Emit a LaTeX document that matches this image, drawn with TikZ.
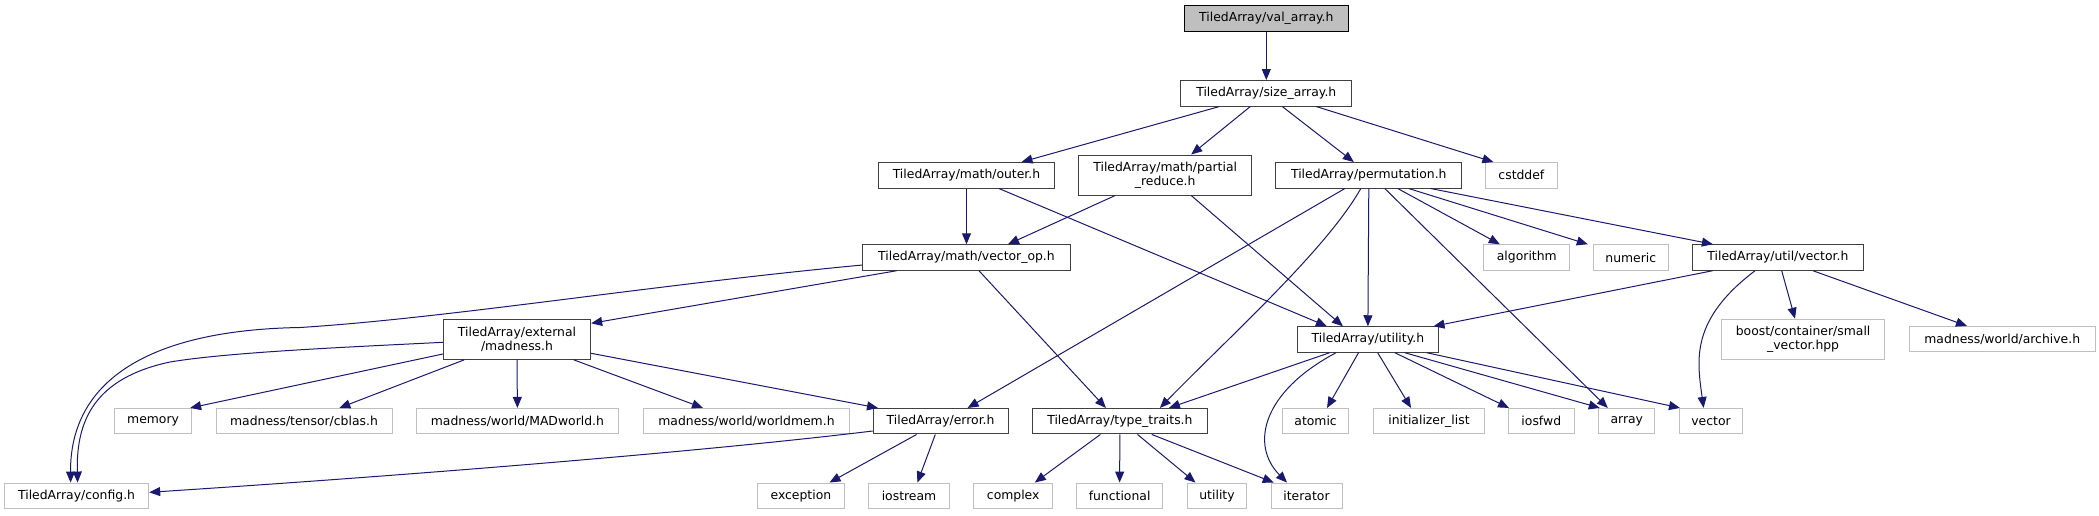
\documentclass[tikz,border=0pt]{standalone}
\usepackage{fontspec}
\setmainfont{DejaVu Sans}
\usetikzlibrary{arrows.meta}
\definecolor{edgeblue}{HTML}{191970}
\tikzset{
 base/.style={draw, line width=1pt, inner sep=0pt, font=\fontsize{12.4}{14}\selectfont, align=center, minimum height=25.5pt},
 int/.style={base, draw=black!75},
 ext/.style={base, draw=black!25},
 root/.style={base, draw=black, fill=black!25},
 two/.style={minimum height=40pt},
 e/.style={draw=edgeblue, line width=1pt, -{Triangle[length=11pt,width=9pt]}},
}
\begin{document}
\begin{tikzpicture}[x=1pt,y=-1pt]
\useasboundingbox (0,0) rectangle (2099,515);
% row 0
\node[root, minimum width=164pt] (val) at (1266.3,18.5) {TiledArray/val\_array.h};
% row 1
\node[int, minimum width=171pt] (size) at (1266.3,93.3) {TiledArray/size\_array.h};
% row 2
\node[int, minimum width=176pt] (outer) at (966.5,175.3) {TiledArray/math/outer.h};
\node[int, two, minimum width=173pt] (partial) at (1165.2,175) {TiledArray/math/partial\\\_reduce.h};
\node[int, minimum width=185.7pt] (perm) at (1368.8,175.3) {TiledArray/permutation.h};
\node[ext, minimum width=71.4pt] (cstddef) at (1521.4,175.3) {cstddef};
% row 3
\node[int, minimum width=207.2pt] (vecop) at (966.5,257.5) {TiledArray/math/vector\_op.h};
\node[ext, minimum width=85.7pt] (algorithm) at (1526.8,257.5) {algorithm};
\node[ext, minimum width=75pt] (numeric) at (1630.8,257.5) {numeric};
\node[int, minimum width=171pt] (utilvec) at (1777.9,257.5) {TiledArray/util/vector.h};
% row 4
\node[int, two, minimum width=147.3pt] (madness) at (517,339.3) {TiledArray/external\\/madness.h};
\node[int, minimum width=141.1pt] (utility) at (1367.9,339.5) {TiledArray/utility.h};
\node[ext, two, minimum width=162.5pt] (boost) at (1803.1,339.2) {boost/container/small\\\_vector.hpp};
\node[ext, minimum width=185.7pt] (archive) at (2002.2,339.2) {madness/world/archive.h};
% row 5
\node[ext, minimum width=77.7pt] (memory) at (153.1,421.2) {memory};
\node[ext, minimum width=176pt] (cblas) at (304,421.2) {madness/tensor/cblas.h};
\node[ext, minimum width=202.8pt] (madworld) at (517.4,421.2) {madness/world/MADworld.h};
\node[ext, minimum width=206.3pt] (worldmem) at (746.5,421.2) {madness/world/worldmem.h};
\node[int, minimum width=134.8pt] (error) at (940.6,421.2) {TiledArray/error.h};
\node[int, minimum width=174.5pt] (traits) at (1119.9,421.2) {TiledArray/type\_traits.h};
\node[ext, minimum width=66.1pt] (atomic) at (1315.6,421.2) {atomic};
\node[ext, minimum width=110.7pt] (initlist) at (1429,421.2) {initializer\_list};
\node[ext, minimum width=65.6pt] (iosfwd) at (1541.3,421.2) {iosfwd};
\node[ext, minimum width=56.2pt] (array) at (1626.8,421.2) {array};
\node[ext, minimum width=62.9pt] (vector) at (1711,421.2) {vector};
% row 6
\node[ext, minimum width=144.2pt] (config) at (76.6,495.8) {TiledArray/config.h};
\node[ext, minimum width=87.5pt] (exception) at (800.9,495.8) {exception};
\node[ext, minimum width=80.3pt] (iostream) at (909,495.8) {iostream};
\node[ext, minimum width=79pt] (complex) at (1013.2,495.8) {complex};
\node[ext, minimum width=86.7pt] (functional) at (1119.6,495.8) {functional};
\node[ext, minimum width=59.9pt] (utilstd) at (1217,495.8) {utility};
\node[ext, minimum width=71pt] (iterator) at (1306.5,495.8) {iterator};

% edges
\draw[e] (val.south) -- (size.north);
\draw[e] ([xshift=-47pt]size.south) -- ([xshift=55pt]outer.north);
\draw[e] ([xshift=-16pt]size.south) -- ([xshift=26pt]partial.north);
\draw[e] ([xshift=16pt]size.south) -- ([xshift=-15pt]perm.north);
\draw[e] ([xshift=50pt]size.south) -- ([xshift=-28pt]cstddef.north);

\draw[e] (outer.south) -- (vecop.north);
\draw[e] ([xshift=32.5pt]outer.south) -- ([xshift=-41pt]utility.north);
\draw[e] ([xshift=-50pt]partial.south) -- ([xshift=41.5pt]vecop.north);
\draw[e] ([xshift=26pt]partial.south) -- ([xshift=-25pt]utility.north);

\draw[e] (perm.south) -- (utility.north);
\draw[e] ([xshift=-24pt]perm.south) -- ([xshift=27pt]error.north);
\draw[e] ([xshift=-8pt]perm.south) .. controls (1326,250) and (1228,338) .. ([xshift=40pt]traits.north);
\draw[e] ([xshift=16pt]perm.south) -- ([xshift=-19pt]array.north);
\draw[e] ([xshift=29pt]perm.south) -- ([xshift=-27pt]algorithm.north);
\draw[e] ([xshift=40pt]perm.south) -- ([xshift=-43pt]numeric.north);
\draw[e] ([xshift=62pt]perm.south) -- ([xshift=-65pt]utilvec.north);

\draw[e] ([yshift=-7.5pt]vecop.west) .. controls (650,285) and (450,318) .. (300,327.5)
  .. controls (150,330) and (70,380) .. ([xshift=-6pt]config.north);
\draw[e] ([xshift=-70pt]vecop.south) -- ([yshift=16pt]madness.east);
\draw[e] ([xshift=12.5pt]vecop.south) -- ([xshift=-14pt]traits.north);

\draw[e] ([yshift=-3pt]madness.west) .. controls (350,347) and (230,352) .. (170,362)
  .. controls (95,378) and (76,420) .. ([xshift=1pt]config.north);
\draw[e] ([yshift=-14.7pt]madness.west) -- ([xshift=37pt]memory.north);
\draw[e] ([xshift=-52.7pt]madness.south) -- ([xshift=35.3pt]cblas.north);
\draw[e] (madness.south) -- (madworld.north);
\draw[e] ([xshift=56.7pt]madness.south) -- ([xshift=-43.5pt]worldmem.north);
\draw[e] ([yshift=-14pt]madness.east) -- ([xshift=-62.6pt]error.north);

\draw[e] ([yshift=-9.8pt]error.west) .. controls (700,452) and (400,476) .. ([yshift=3.5pt]config.east);
\draw[e] ([xshift=-24pt]error.south) -- ([xshift=28.6pt]exception.north);
\draw[e] ([xshift=-5.3pt]error.south) -- ([xshift=8.4pt]iostream.north);

\draw[e] ([xshift=-19.5pt]traits.south) -- ([xshift=21.6pt]complex.north);
\draw[e] (traits.south) -- (functional.north);
\draw[e] ([xshift=17.6pt]traits.south) -- ([xshift=-21.5pt]utilstd.north);
\draw[e] ([xshift=31.9pt]traits.south) -- ([xshift=-32.8pt]iterator.north);

\draw[e] ([xshift=-38.4pt]utility.south) -- ([xshift=49pt]traits.north);
\draw[e] ([xshift=-31.9pt]utility.south) .. controls (1262,392) and (1250,445) .. ([xshift=-19.5pt]iterator.north);
\draw[e] ([xshift=-9.4pt]utility.south) -- ([xshift=11.4pt]atomic.north);
\draw[e] ([xshift=9.8pt]utility.south) -- ([xshift=-18pt]initlist.north);
\draw[e] ([xshift=27pt]utility.south) -- ([xshift=-32.3pt]iosfwd.north);
\draw[e] ([xshift=37pt]utility.south) -- ([xshift=-27pt]array.north);
\draw[e] ([xshift=59pt]utility.south) -- ([xshift=-31pt]vector.north);

\draw[e] ([xshift=-65.4pt]utilvec.south) -- ([xshift=65.6pt]utility.north);
\draw[e] ([xshift=-22.9pt]utilvec.south) .. controls (1690,320) and (1697,360) .. ([xshift=-7.4pt]vector.north);
\draw[e] ([xshift=3.8pt]utilvec.south) -- ([xshift=-8.1pt]boost.north);
\draw[e] ([xshift=35.1pt]utilvec.south) -- ([xshift=-35.2pt]archive.north);
\end{tikzpicture}
\end{document}
